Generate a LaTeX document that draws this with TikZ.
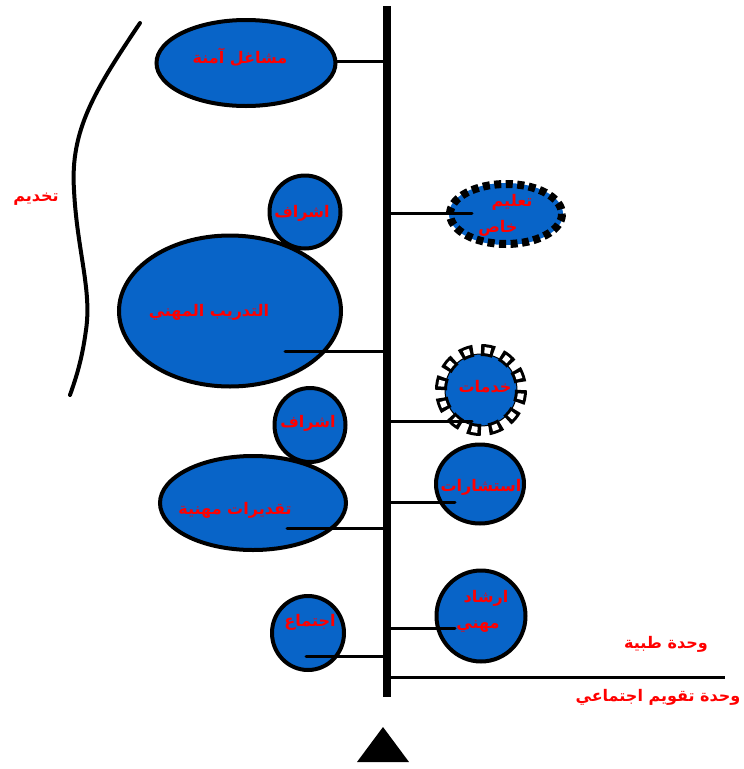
\documentclass[tikz,border=0pt]{standalone}
\usepackage{fontspec}
\TeXXeTstate=1
\newfontfamily\arabicfont[Script=Arabic, BoldFont={DejaVu Sans Bold}]{DejaVu Sans}
\usetikzlibrary{shapes.geometric}
\definecolor{blobblue}{RGB}{8,100,200}
\definecolor{txtred}{RGB}{255,0,0}
\begin{document}
\begin{tikzpicture}[x=1pt,y=-1pt,
  blob/.style={ellipse, draw=black, line width=4pt, fill=blobblue, inner sep=0pt},
  lbl/.style={text=txtred, font=\arabicfont\bfseries\fontsize{16}{18}\selectfont, inner sep=0pt},
  conn/.style={line width=3pt, line cap=round},
  spinestyle/.style={line width=8pt},
]
\useasboundingbox (0,0) rectangle (744,769);

% bracket curve
\draw[line width=4pt, line cap=round] (140,23) .. controls (95,90) and (70,130) .. (74,190)
  .. controls (77,250) and (92,290) .. (86,330) .. controls (82,360) and (76,378) .. (70,395);

% left blobs
\node[blob, minimum width=179, minimum height=86] (mash) at (246,63) {};
\node[blob, minimum width=222, minimum height=151] (tadr) at (230,311) {};
\node[blob, minimum width=71, minimum height=73] (ishr1) at (305,212) {};
\node[blob, minimum width=186, minimum height=94] (taqd) at (253,503) {};
\node[blob, minimum width=71, minimum height=74] (ishr2) at (310,425) {};
\node[blob, minimum width=72, minimum height=74] (ijtm) at (308,633) {};

% right blobs
\node[ellipse, fill=blobblue, minimum width=114, minimum height=62, inner sep=0pt] (talm) at (506,214) {};
\draw[line width=8pt, dash pattern=on 7pt off 4.5pt] (talm.center) ellipse[x radius=56, y radius=30];
\node[circle, fill=blobblue, draw=black, line width=1pt, minimum size=72, inner sep=0pt] (khad) at (481,390) {};
\draw[line width=12pt, dash pattern=on 13pt off 7.94pt] (khad.center) circle[radius=40];
\draw[white, line width=6pt, dash pattern=on 6pt off 14.94pt, dash phase=17.44pt] (khad.center) circle[radius=40];
\node[blob, minimum width=88, minimum height=79] (istsh) at (480,484) {};
\node[blob, minimum width=89, minimum height=91] (irsh) at (481,616) {};

% spine
\coordinate (spT) at (387,6);
\coordinate (spB) at (387,697);
\draw[spinestyle] (spT) -- (spB);

% connector end points
\coordinate (m0) at (337,61);  \coordinate (m1) at (386,61);
\coordinate (t0) at (285,351); \coordinate (t1) at (386,351);
\coordinate (q0) at (287,528); \coordinate (q1) at (386,528);
\coordinate (j0) at (306,656); \coordinate (j1) at (386,656);
\coordinate (a1) at (388,213); \coordinate (a0) at (472,213);
\coordinate (k1) at (388,421); \coordinate (k0) at (472,421);
\coordinate (s1) at (388,502); \coordinate (s0) at (455,502);
\coordinate (r1) at (388,628); \coordinate (r0) at (455,628);
\coordinate (b1) at (388,677); \coordinate (b0) at (725,677);

\draw[conn] (m0) -- (m1);
\draw[conn] (t0) -- (t1);
\draw[conn] (q0) -- (q1);
\draw[conn] (j0) -- (j1);
\draw[conn] (a1) -- (a0);
\draw[conn] (k1) -- (k0);
\draw[conn] (s1) -- (s0);
\draw[conn] (r1) -- (r0);
\draw[line width=3pt] (b1) -- (b0);

% triangle
\fill (383,727) -- (409,762) -- (357,762) -- cycle;

% labels
\node[lbl] (lmash) at (240,57) {\beginR مشاغل آمنة\endR};
\node[lbl] (ltakh) at (36,199) {\beginR تخديم\endR};
\node[lbl] (lish1) at (302,213) {\beginR اشراف\endR};
\node[lbl] (ltal1) at (512,202) {\beginR تعليم\endR};
\node[lbl] (ltal2) at (498,228) {\beginR خاص\endR};
\node[lbl] (ltadr) at (209,312) {\beginR التدريب المهني\endR};
\node[lbl] (lkhad) at (485,387) {\beginR خدمات\endR};
\node[lbl] (lish2) at (308,423) {\beginR اشراف\endR};
\node[lbl] (listsh) at (481,487) {\beginR استشارات\endR};
\node[lbl] (ltaqd) at (235,510) {\beginR تقديرات مهنية\endR};
\node[lbl] (lijtm) at (310,622) {\beginR اجتماع\endR};
\node[lbl] (lirs1) at (486,598) {\beginR ارشاد\endR};
\node[lbl] (lirs2) at (478,627) {\beginR مهني\endR};
\node[lbl] (lwah1) at (666,644) {\beginR وحدة طبية\endR};
\node[lbl] (lwah2) at (658,697) {\beginR وحدة تقويم اجتماعي\endR};
\end{tikzpicture}
\end{document}
